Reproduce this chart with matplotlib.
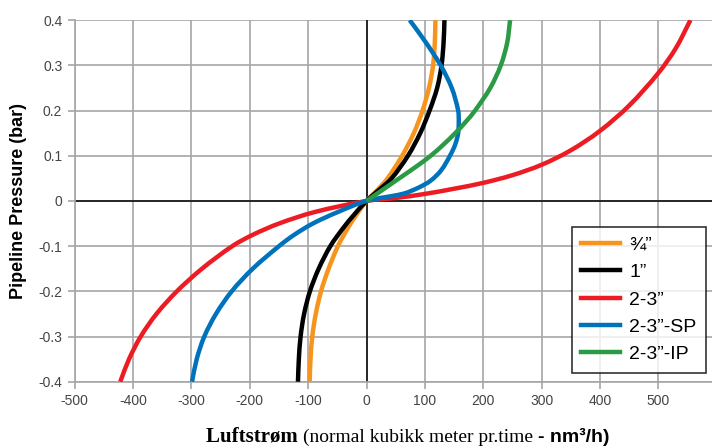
import matplotlib
matplotlib.use('Agg')
import numpy as np
import matplotlib.pyplot as plt
from matplotlib.path import Path
from matplotlib.patches import PathPatch
from matplotlib.lines import Line2D
from matplotlib.offsetbox import TextArea, HPacker, AnchoredOffsetbox

# flow (nm3/h), pressure (bar) on the y axis
p_34 = [-0.4, -0.35, -0.3, -0.25, -0.2, -0.15, -0.1, -0.06, -0.03, 0,
        0.025, 0.05, 0.1, 0.15, 0.2, 0.25, 0.3, 0.35, 0.4]
q_34 = [-97.5, -96, -93, -87, -78, -65, -49, -32, -17, 0,
        19, 36, 61, 81, 96, 107, 114, 117, 118]

p_1 = [-0.4, -0.35, -0.3, -0.25, -0.2, -0.15, -0.1, -0.06, -0.03, 0,
       0.025, 0.05, 0.1, 0.15, 0.2, 0.25, 0.3, 0.35, 0.4]
q_1 = [-117.5, -116, -113, -107, -97, -82, -62, -40, -21, 0,
       22, 43, 71, 92, 108, 121, 128.5, 132, 133.5]

p_23 = [-0.4, -0.35, -0.3, -0.25, -0.2, -0.15, -0.1, -0.075, -0.05, -0.025, 0,
        0.0065, 0.0155, 0.027, 0.04, 0.057, 0.08, 0.112, 0.155, 0.211, 0.283, 0.338, 0.4]
q_23 = [-422, -407, -387, -360, -325, -282, -230, -195, -150, -90, 0,
        50, 100, 150, 200, 250, 300, 350, 400, 450, 500, 530, 555]

p_sp = [-0.4, -0.35, -0.3, -0.25, -0.2, -0.15, -0.1, -0.075, -0.05, -0.025, 0,
        0.016, 0.03, 0.045, 0.068, 0.1, 0.125, 0.15, 0.175, 0.2, 0.25, 0.3, 0.35, 0.4]
q_sp = [-299, -291, -278, -258, -231, -195, -150, -124, -92, -50, 0,
        63, 90, 110, 128, 143, 152, 157, 158, 157, 146, 127, 102, 74]

p_ip = [0, 0.025, 0.05, 0.075, 0.1, 0.125, 0.15, 0.175, 0.2, 0.25, 0.3, 0.35, 0.4]
q_ip = [0, 28, 56, 84, 110, 132, 152, 170, 186, 212, 230, 241, 246]

labels = ['\u00be\u201d', '1\u201d', '2-3\u201d', '2-3\u201d-SP', '2-3\u201d-IP']
colors = ['#F7941D', '#000000', '#ED1C24', '#0072BC', '#2A9A45']

x_ticks = [-500, -400, -300, -200, -100, 0, 100, 200, 300, 400, 500]
y_ticks = [-0.4, -0.3, -0.2, -0.1, 0, 0.1, 0.2, 0.3, 0.4]

XLIM = (-500, 592)
YLIM = (-0.4, 0.4)


def smooth_path(q, p, sx, sy):
    # bezier through the read points (chord-length hermite), like a smoothed line in excel
    pts = np.column_stack([np.asarray(q, float) * sx, np.asarray(p, float) * sy])
    n = len(pts)
    d = np.hypot(*np.diff(pts, axis=0).T)
    tang = np.zeros_like(pts)
    tang[0] = (pts[1] - pts[0]) / d[0]
    tang[-1] = (pts[-1] - pts[-2]) / d[-1]
    for i in range(1, n - 1):
        tang[i] = (pts[i + 1] - pts[i - 1]) / (d[i - 1] + d[i])
    verts = [pts[0]]
    codes = [Path.MOVETO]
    for i in range(n - 1):
        verts += [pts[i] + tang[i] * d[i] / 3, pts[i + 1] - tang[i + 1] * d[i] / 3, pts[i + 1]]
        codes += [Path.CURVE4] * 3
    verts = np.array(verts)
    verts[:, 0] /= sx
    verts[:, 1] /= sy
    return Path(verts, codes)


fig = plt.figure(figsize=(7.12, 4.48), dpi=100)
ax = fig.add_axes([0.105, 0.148, 0.895, 0.807])

grid_c = '#A6A6A6'
for xv in x_ticks:
    ax.axvline(xv, color=grid_c, lw=1.2, zorder=1)
for yv in y_ticks:
    ax.axhline(yv, color=grid_c, lw=1.2, zorder=1)
ax.axvline(0, color='black', lw=1.1, zorder=2)
ax.axhline(0, color='black', lw=1.1, zorder=2)

# pixel scale of each axis, so the smoothing is done in screen-like space
sx = 637.0 / (XLIM[1] - XLIM[0])
sy = 361.7 / (YLIM[1] - YLIM[0])

series = [(q_34, p_34), (q_1, p_1), (q_23, p_23), (q_sp, p_sp), (q_ip, p_ip)]
handles = []
for (q, p), lab, col in zip(series, labels, colors):
    patch = PathPatch(smooth_path(q, p, sx, sy), facecolor='none', edgecolor=col,
                      lw=3.2, zorder=3, capstyle='butt', joinstyle='round')
    ax.add_patch(patch)
    handles.append(Line2D([], [], color=col, lw=3.2, label=lab))

ax.set_xlim(*XLIM)
ax.set_ylim(*YLIM)
ax.set_xticks(x_ticks)
ax.set_yticks(y_ticks)
ax.set_xticklabels([str(v) for v in x_ticks])
ax.set_yticklabels(['-0.4', '-0.3', '-0.2', '-0.1', '0', '0.1', '0.2', '0.3', '0.4'])
ax.tick_params(axis='both', colors=grid_c, length=5, width=1.2, labelcolor='#444444',
               labelsize=10, pad=4)
for s in ['top', 'right']:
    ax.spines[s].set_visible(False)
for s in ['left', 'bottom']:
    ax.spines[s].set_color(grid_c)
    ax.spines[s].set_linewidth(1.2)
for t in ax.get_xticklabels() + ax.get_yticklabels():
    t.set_family('Liberation Sans')

ax.set_ylabel('Pipeline Pressure (bar)', fontsize=13, fontweight='bold',
              family='Liberation Sans', labelpad=8)

leg = ax.legend(handles=handles, loc='lower right', bbox_to_anchor=(0.9906, 0.024),
                borderaxespad=0, frameon=True, fancybox=False, handlelength=2.0,
                handletextpad=0.45, borderpad=0.5, labelspacing=0.5,
                prop={'family': 'Liberation Sans', 'size': 14})
leg.get_frame().set_edgecolor('black')
leg.get_frame().set_linewidth(1.2)
leg.set_zorder(5)

# x label with mixed fonts
parts = [
    TextArea('Luftstr\u00f8m ', textprops=dict(family='Liberation Serif', weight='bold', size=15)),
    TextArea('(normal kubikk meter pr.time ', textprops=dict(family='Liberation Serif', size=14)),
    TextArea('- nm\u00b3/h)', textprops=dict(family='Liberation Sans', weight='bold', size=14)),
]
box = HPacker(children=parts, align='baseline', pad=0, sep=0)
anch = AnchoredOffsetbox(loc='center', child=box, frameon=False,
                         bbox_to_anchor=(0.573, 0.025), bbox_transform=fig.transFigure,
                         borderpad=0)
fig.add_artist(anch)

fig.savefig('out.png', dpi=100)
